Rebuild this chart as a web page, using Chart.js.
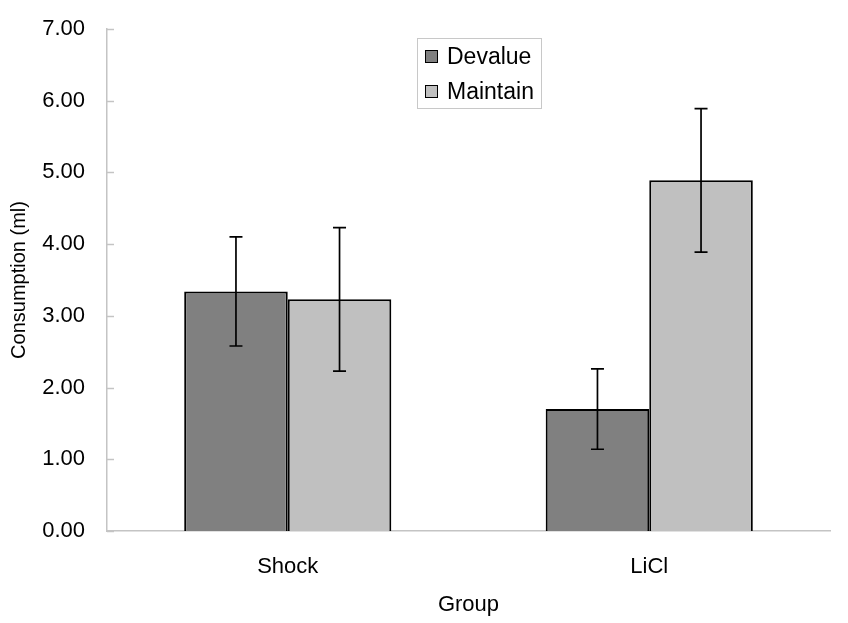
<!DOCTYPE html>
<html>
<head>
<meta charset="utf-8">
<script src="https://cdn.jsdelivr.net/npm/chart.js@4.4.1/dist/chart.umd.min.js"></script>
<style>
  html, body { margin: 0; padding: 0; background: #fff; }
</style>
</head>
<body>
<canvas id="c" width="848" height="623"></canvas>
<script>
/* Consumption by group, devalue vs maintain, with SEM bars. */
const groups = ["Shock", "LiCl"];
const devalue = [3.34, 1.70];
const devalueErr = [0.76, 0.56];
const maintain = [3.23, 4.89];
const maintainErr = [1.00, 1.00];
const yMin = 0, yMax = 7, yStep = 1;

const FONT = "'Liberation Sans', Arial, sans-serif";
const AXIS = "#c4c4c4";

// error bars + inward y ticks, drawn through the chart's own scales
const errPlugin = {
  id: "err",
  afterDatasetsDraw(chart) {
    const { ctx, scales: { y } } = chart;
    ctx.save();
    ctx.strokeStyle = "#000";
    ctx.lineWidth = 1.7;
    chart.data.datasets.forEach((ds, i) => {
      chart.getDatasetMeta(i).data.forEach((el, j) => {
        const v = ds.data[j], e = ds.err[j];
        const top = y.getPixelForValue(v + e), bot = y.getPixelForValue(v - e);
        ctx.beginPath();
        ctx.moveTo(el.x, top); ctx.lineTo(el.x, bot);
        ctx.moveTo(el.x - 6.5, top); ctx.lineTo(el.x + 6.5, top);
        ctx.moveTo(el.x - 6.5, bot); ctx.lineTo(el.x + 6.5, bot);
        ctx.stroke();
      });
    });
    ctx.restore();
  },
  afterDraw(chart) {
    const { ctx, scales: { y }, chartArea } = chart;
    ctx.save();
    ctx.strokeStyle = AXIS;
    ctx.lineWidth = 1.5;
    for (let v = yMin; v <= yMax; v += yStep) {
      const py = Math.round(y.getPixelForValue(v)) + 0.5;
      ctx.beginPath();
      ctx.moveTo(chartArea.left, py); ctx.lineTo(chartArea.left + 7, py);
      ctx.stroke();
    }
    // boxed legend inside the plot
    const lx = 417.5, ly = 38.5, lw = 124, lh = 70;
    ctx.strokeStyle = "#c8c8c8";
    ctx.lineWidth = 1;
    ctx.strokeRect(lx, ly, lw, lh);
    ctx.font = "23px " + FONT;
    ctx.textBaseline = "middle";
    ctx.fillStyle = "#000";
    chart.data.datasets.forEach((ds, i) => {
      const cy = 57 + i * 35;
      ctx.fillStyle = ds.backgroundColor;
      ctx.fillRect(426, cy - 6, 11, 11);
      ctx.strokeStyle = "#000";
      ctx.strokeRect(425.5, cy - 6.5, 12, 12);
      ctx.fillStyle = "#000";
      ctx.fillText(ds.label, 447, cy + 1);
    });
    ctx.restore();
  }
};

new Chart(document.getElementById("c"), {
  type: "bar",
  data: {
    labels: groups,
    datasets: [
      { label: "Devalue", data: devalue, err: devalueErr, backgroundColor: "#808080", borderColor: "#000", borderWidth: 2 },
      { label: "Maintain", data: maintain, err: maintainErr, backgroundColor: "#c0c0c0", borderColor: "#000", borderWidth: 2 }
    ]
  },
  options: {
    responsive: false,
    animation: false,
    devicePixelRatio: 1,
    layout: { padding: { left: 0, right: 18, top: 29, bottom: 0 } },
    categoryPercentage: 0.573,
    barPercentage: 1.0,
    plugins: { legend: { display: false }, tooltip: { enabled: false } },
    scales: {
      x: {
        grid: { display: false, drawTicks: false },
        border: { color: AXIS, width: 1.5 },
        ticks: { color: "#000", font: { family: FONT, size: 22 }, padding: 23 },
        title: { display: true, text: "Group", color: "#000", font: { family: FONT, size: 22 }, padding: { top: 0, bottom: 5 } },
        afterFit: (s) => { s.height = 92; s.paddingLeft = 0; s.paddingRight = 0; }
      },
      y: {
        min: yMin, max: yMax,
        grid: { display: false, drawTicks: false },
        border: { color: AXIS, width: 1.5 },
        ticks: { stepSize: yStep, color: "#000", font: { family: FONT, size: 22 }, padding: 22, callback: (v) => Number(v).toFixed(2) },
        title: { display: true, text: "Consumption (ml)", color: "#000", font: { family: FONT, size: 20 }, padding: { top: 7, bottom: 0 } },
        afterFit: (s) => { s.width = 107; s.paddingTop = 0; s.paddingBottom = 0; }
      }
    }
  },
  plugins: [errPlugin]
});
</script>
</body>
</html>
